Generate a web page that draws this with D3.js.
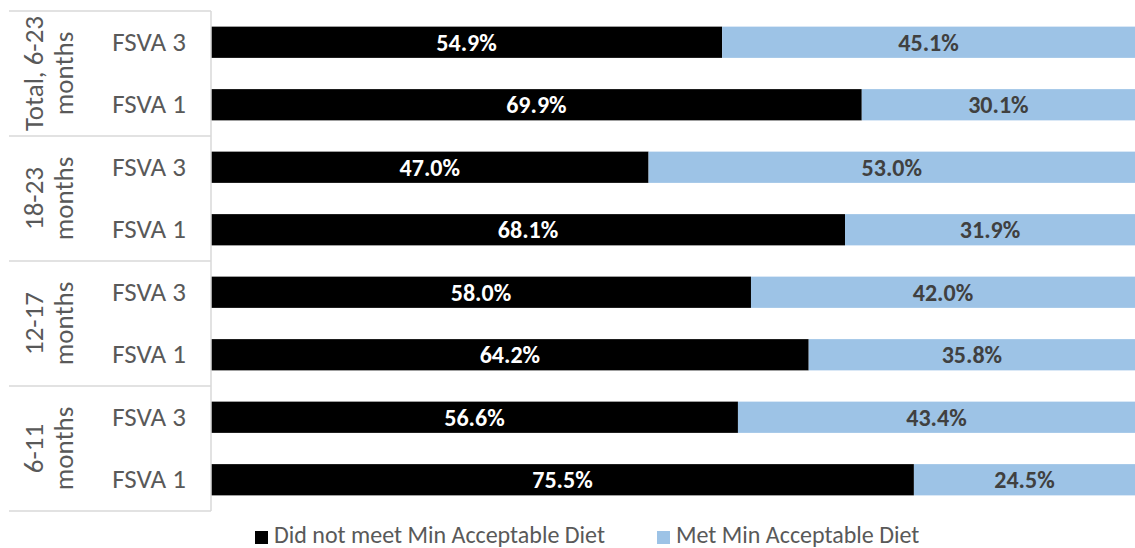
<!DOCTYPE html>
<html>
<head>
<meta charset="utf-8">
<script src="https://cdn.jsdelivr.net/npm/d3@7"></script>
<style>
  html, body { margin: 0; padding: 0; background: #fff; }
  svg { display: block; font-family: Calibri, Carlito, Lato, "Open Sans", sans-serif; }
</style>
</head>
<body>
<svg id="chart" width="1135" height="548"></svg>
<script>
// Age groups (top to bottom) and survey rounds within each group
const groups = [
  ["Total, 6-23", "months"],
  ["18-23", "months"],
  ["12-17", "months"],
  ["6-11", "months"]
];
const rounds = ["FSVA 3", "FSVA 1"];

// Share of children (%) per row, in drawing order
const rowKeys = ["total-3", "total-1", "18-3", "18-1", "12-3", "12-1", "6-3", "6-1"];
const didNotMeet = [54.9, 69.9, 47.0, 68.1, 58.0, 64.2, 56.6, 75.5];
const met = [45.1, 30.1, 53.0, 31.9, 42.0, 35.8, 43.4, 24.5];

const seriesNames = ["Did not meet Min Acceptable Diet", "Met Min Acceptable Diet"];
const seriesColors = ["#000000", "#9DC3E6"];
const labelColors = ["#ffffff", "#404040"];

const svg = d3.select("#chart");
const plotLeft = 211, plotTop = 11, plotBottom = 511;

const x = d3.scaleLinear().domain([0, 100]).range([plotLeft, plotLeft + 931]);
const y = d3.scaleBand().domain(rowKeys).range([plotTop, plotBottom]).paddingInner(0.5).paddingOuter(0.25);

const rows = rowKeys.map((k, i) => ({ key: k, values: [didNotMeet[i], met[i]] }));
const stacked = d3.stack().keys([0, 1]).value((d, k) => d.values[k])(rows);

// Bars with centred value labels
stacked.forEach((layer, s) => {
  svg.append("g").selectAll("rect").data(layer).join("rect")
    .attr("x", d => x(d[0]))
    .attr("y", d => y(d.data.key))
    .attr("width", d => x(d[1]) - x(d[0]))
    .attr("height", y.bandwidth())
    .attr("fill", seriesColors[s]);
  svg.append("g").selectAll("text").data(layer).join("text")
    .attr("x", d => (x(d[0]) + Math.min(x(d[1]), 1135)) / 2)
    .attr("y", d => y(d.data.key) + y.bandwidth() / 2 + 8.5)
    .attr("text-anchor", "middle")
    .attr("font-size", 24)
    .attr("font-weight", "bold")
    .attr("fill", labelColors[s])
    .text(d => d.data.values[s].toFixed(1) + "%");
});

// Category axis: vertical line and group separators
const axisColor = "#d9d9d9";
svg.append("line")
  .attr("x1", plotLeft).attr("x2", plotLeft).attr("y1", plotTop).attr("y2", plotBottom)
  .attr("stroke", axisColor).attr("stroke-width", 1.5);

const groupH = (plotBottom - plotTop) / groups.length;
const gy = d3.scaleLinear().domain([0, groups.length]).range([plotTop, plotBottom]);
d3.range(groups.length + 1).forEach(i => {
  svg.append("line")
    .attr("x1", 9).attr("x2", plotLeft).attr("y1", gy(i)).attr("y2", gy(i))
    .attr("stroke", axisColor).attr("stroke-width", 1.5);
});

// Round labels
svg.append("g").selectAll("text").data(rowKeys).join("text")
  .attr("x", 186)
  .attr("y", d => y(d) + y.bandwidth() / 2 + 8.5)
  .attr("text-anchor", "end")
  .attr("font-size", 27)
  .attr("fill", "#595959")
  .text((d, i) => rounds[i % 2]);

// Rotated group labels (two lines each)
groups.forEach((lines, i) => {
  const cy = gy(i) + groupH / 2;
  const t = svg.append("text")
    .attr("transform", `translate(0,${cy}) rotate(-90)`)
    .attr("text-anchor", "middle")
    .attr("font-size", 27)
    .attr("fill", "#595959");
  lines.forEach((ln, j) => {
    t.append("tspan").attr("x", 0).attr("y", j === 0 ? 43 : 73).text(ln);
  });
});

// Legend
const legend = svg.append("g");
const legendX = [255, 657];
seriesNames.forEach((name, s) => {
  legend.append("rect")
    .attr("x", legendX[s]).attr("y", 531).attr("width", 13).attr("height", 13)
    .attr("fill", seriesColors[s]);
  legend.append("text")
    .attr("x", legendX[s] + 19).attr("y", 543)
    .attr("font-size", 24)
    .attr("fill", "#595959")
    .text(name);
});
</script>
</body>
</html>
